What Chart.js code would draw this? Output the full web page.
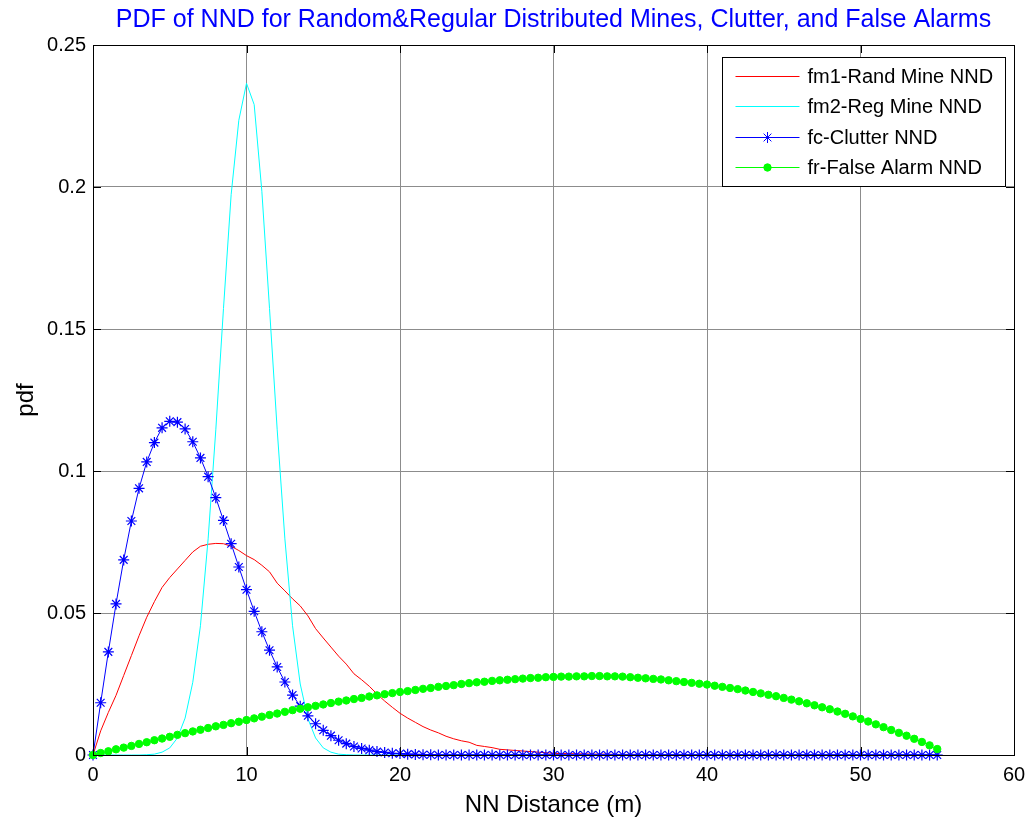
<!DOCTYPE html>
<html>
<head>
<meta charset="utf-8">
<script src="https://cdn.jsdelivr.net/npm/chart.js@4.4.0/dist/chart.umd.min.js"></script>
<style>
  html, body { margin: 0; padding: 0; background: #fff; }
  #wrap { width: 1030px; height: 821px; }
</style>
</head>
<body>
<div id="wrap"><canvas id="nndChart" width="1030" height="821"></canvas></div>
<script>
// NN distance grid (m), 0 to 55 in 0.5 m steps
const distances = [
  0, 0.5, 1, 1.5, 2, 2.5, 3, 3.5, 4, 4.5,
  5, 5.5, 6, 6.5, 7, 7.5, 8, 8.5, 9, 9.5,
  10, 10.5, 11, 11.5, 12, 12.5, 13, 13.5, 14, 14.5,
  15, 15.5, 16, 16.5, 17, 17.5, 18, 18.5, 19, 19.5,
  20, 20.5, 21, 21.5, 22, 22.5, 23, 23.5, 24, 24.5,
  25, 25.5, 26, 26.5, 27, 27.5, 28, 28.5, 29, 29.5,
  30, 30.5, 31, 31.5, 32, 32.5, 33, 33.5, 34, 34.5,
  35, 35.5, 36, 36.5, 37, 37.5, 38, 38.5, 39, 39.5,
  40, 40.5, 41, 41.5, 42, 42.5, 43, 43.5, 44, 44.5,
  45, 45.5, 46, 46.5, 47, 47.5, 48, 48.5, 49, 49.5,
  50, 50.5, 51, 51.5, 52, 52.5, 53, 53.5, 54, 54.5,
  55
];

// fm1 - random mine NND
const fmRand = [
  0, 0.0085, 0.0150, 0.0210, 0.0280, 0.0350, 0.0420, 0.0485, 0.0540, 0.0590,
  0.0625, 0.0655, 0.0685, 0.0715, 0.0735, 0.0742, 0.0745, 0.0744, 0.0735, 0.0720,
  0.0702, 0.0688, 0.0668, 0.0645, 0.0605, 0.0578, 0.0550, 0.0525, 0.0490, 0.0445,
  0.0412, 0.0380, 0.0348, 0.0320, 0.0286, 0.0265, 0.0242, 0.0215, 0.0190, 0.0168,
  0.0147, 0.0130, 0.0115, 0.0100, 0.0088, 0.0078, 0.0066, 0.0057, 0.0050, 0.0045,
  0.0034, 0.0030, 0.0026, 0.0020, 0.0018, 0.0016, 0.0014, 0.0012, 0.0010, 0.0008,
  0.0006, 0.0005, 0.0005, 0.0004, 0.0004, 0.0003, 0.0003, 0.0003, 0.0002, 0.0002,
  0.0002, 0.0002, 0.0001, 0.0001, 0.0001, 0.0001, 0.0001, 0.0001, 0.0001, 0,
  0, 0, 0, 0, 0, 0, 0, 0, 0, 0,
  0, 0, 0, 0, 0, 0, 0, 0, 0, 0,
  0, 0, 0, 0, 0, 0, 0, 0, 0, 0,
  0
];

// fm2 - regular mine NND
const fmReg = [
  0, 0, 0, 0, 0, 0, 0, 0.0001, 0.0003, 0.0010,
  0.0025, 0.0060, 0.0130, 0.0256, 0.0455, 0.0761, 0.1145, 0.1572, 0.1973, 0.2235,
  0.2365, 0.2290, 0.1985, 0.1572, 0.1145, 0.0761, 0.0455, 0.0250, 0.0128, 0.0060,
  0.0025, 0.0010, 0.0003, 0.0001, 0, 0, 0, 0, 0, 0,
  0, 0, 0, 0, 0, 0, 0, 0, 0, 0,
  0, 0, 0, 0, 0, 0, 0, 0, 0, 0,
  0, 0, 0, 0, 0, 0, 0, 0, 0, 0,
  0, 0, 0, 0, 0, 0, 0, 0, 0, 0,
  0, 0, 0, 0, 0, 0, 0, 0, 0, 0,
  0, 0, 0, 0, 0, 0, 0, 0, 0, 0,
  0, 0, 0, 0, 0, 0, 0, 0, 0, 0,
  0
];

// fc - clutter NND
const fcClutter = [
  0, 0.0184, 0.0363, 0.0532, 0.0687, 0.0824, 0.0939, 0.1032, 0.1100, 0.1152,
  0.1175, 0.1172, 0.1148, 0.1103, 0.1046, 0.0980, 0.0906, 0.0826, 0.0744, 0.0662,
  0.0582, 0.0506, 0.0434, 0.0369, 0.0310, 0.0257, 0.0211, 0.0172, 0.0138, 0.0110,
  0.0087, 0.0068, 0.0052, 0.0040, 0.0030, 0.0023, 0.0017, 0.0012, 0.0009, 0.0006,
  0.0005, 0.0003, 0.0002, 0.0001, 0.0001, 0, 0, 0, 0, 0,
  0, 0, 0, 0, 0, 0, 0, 0, 0, 0,
  0, 0, 0, 0, 0, 0, 0, 0, 0, 0,
  0, 0, 0, 0, 0, 0, 0, 0, 0, 0,
  0, 0, 0, 0, 0, 0, 0, 0, 0, 0,
  0, 0, 0, 0, 0, 0, 0, 0, 0, 0,
  0, 0, 0, 0, 0, 0, 0, 0, 0, 0,
  0
];

// fr - false alarm NND
const frFalse = [
  0.0000, 0.0007, 0.0013, 0.0020, 0.0026, 0.0032, 0.0039, 0.0045, 0.0052, 0.0058,
  0.0064, 0.0071, 0.0077, 0.0083, 0.0089, 0.0095, 0.0101, 0.0106, 0.0112, 0.0117,
  0.0123, 0.0129, 0.0135, 0.0141, 0.0146, 0.0152, 0.0158, 0.0163, 0.0168, 0.0173,
  0.0178, 0.0183, 0.0188, 0.0192, 0.0197, 0.0201, 0.0206, 0.0210, 0.0214, 0.0218,
  0.0222, 0.0225, 0.0229, 0.0233, 0.0236, 0.0240, 0.0243, 0.0246, 0.0250, 0.0253,
  0.0256, 0.0258, 0.0261, 0.0263, 0.0265, 0.0267, 0.0269, 0.0271, 0.0272, 0.0274,
  0.0275, 0.0276, 0.0276, 0.0277, 0.0277, 0.0278, 0.0278, 0.0277, 0.0277, 0.0276,
  0.0274, 0.0272, 0.0270, 0.0268, 0.0266, 0.0263, 0.0260, 0.0257, 0.0254, 0.0251,
  0.0248, 0.0244, 0.0240, 0.0236, 0.0232, 0.0227, 0.0222, 0.0217, 0.0212, 0.0207,
  0.0201, 0.0195, 0.0189, 0.0182, 0.0175, 0.0168, 0.0161, 0.0153, 0.0145, 0.0136,
  0.0127, 0.0118, 0.0108, 0.0098, 0.0088, 0.0078, 0.0068, 0.0057, 0.0046, 0.0034,
  0.0021
];

const seriesLabels = ['fm1-Rand Mine NND', 'fm2-Reg Mine NND', 'fc-Clutter NND', 'fr-False Alarm NND'];
const xTicks = [0, 10, 20, 30, 40, 50, 60];
const yTicks = [0, 0.05, 0.1, 0.15, 0.2, 0.25];
const chartTitle = 'PDF of NND for Random&Regular Distributed Mines, Clutter, and False Alarms';

const FONT = "'Liberation Sans', Arial, sans-serif";

function toPoints(ys) {
  return distances.map((d, i) => ({ x: d, y: ys[i] }));
}

// title centred over the axes, box around the axes, inward ticks, boxed legend
const axesDecor = {
  id: 'axesDecor',
  afterDatasetsDraw(chart) {
    const { ctx, chartArea: a, scales } = chart;
    ctx.save();

    ctx.fillStyle = '#0000ff';
    ctx.font = '25px ' + FONT;
    ctx.textAlign = 'center';
    ctx.textBaseline = 'middle';
    ctx.fillText(chartTitle, (a.left + a.right) / 2, 20);

    ctx.strokeStyle = '#000';
    ctx.lineWidth = 1;
    const tl = 8;
    ctx.beginPath();
    xTicks.forEach(v => {
      const px = Math.round(scales.x.getPixelForValue(v)) + 0.5;
      ctx.moveTo(px, a.bottom); ctx.lineTo(px, a.bottom - tl);
      ctx.moveTo(px, a.top); ctx.lineTo(px, a.top + tl);
    });
    yTicks.forEach(v => {
      const py = Math.round(scales.y.getPixelForValue(v)) + 0.5;
      ctx.moveTo(a.left, py); ctx.lineTo(a.left + tl, py);
      ctx.moveTo(a.right, py); ctx.lineTo(a.right - tl, py);
    });
    ctx.stroke();
    ctx.strokeRect(Math.round(a.left) + 0.5, Math.round(a.top) + 0.5,
      Math.round(a.right - a.left), Math.round(a.bottom - a.top));

    // legend
    const bw = 283, bh = 129;
    const bx = Math.round(a.right - 9 - bw) + 0.5;
    const by = Math.round(a.top + 12) + 0.5;
    ctx.fillStyle = '#fff';
    ctx.fillRect(bx, by, bw, bh);
    ctx.strokeRect(bx, by, bw, bh);
    ctx.font = '20px ' + FONT;
    ctx.textBaseline = 'middle';
    ctx.textAlign = 'left';
    chart.data.datasets.forEach((ds, i) => {
      const y = Math.round(by + 18 + i * 30.5) + 0.5;
      ctx.strokeStyle = ds.borderColor;
      ctx.lineWidth = 1;
      ctx.beginPath();
      ctx.moveTo(bx + 13, y);
      ctx.lineTo(bx + 77, y);
      ctx.stroke();
      if (ds.pointRadius > 0) {
        ctx.fillStyle = ds.pointBackgroundColor;
        ctx.strokeStyle = ds.pointBorderColor;
        Chart.helpers.drawPoint(ctx, {
          pointStyle: ds.pointStyle, radius: ds.pointRadius,
          borderWidth: ds.pointBorderWidth, rotation: 0
        }, bx + 45, y);
      }
      ctx.fillStyle = '#000';
      ctx.fillText(ds.label, bx + 85, y + 1);
    });
    ctx.restore();
  }
};

new Chart(document.getElementById('nndChart'), {
  type: 'line',
  data: {
    datasets: [
      {
        label: seriesLabels[0], data: toPoints(fmRand),
        borderColor: '#ff0000', borderWidth: 1, pointRadius: 0, order: 4, clip: false
      },
      {
        label: seriesLabels[1], data: toPoints(fmReg),
        borderColor: '#00ffff', borderWidth: 1, pointRadius: 0, order: 3, clip: false
      },
      {
        label: seriesLabels[2], data: toPoints(fcClutter),
        borderColor: '#0000ff', borderWidth: 1, pointStyle: 'star',
        pointRadius: 5.5, pointBorderWidth: 1.2,
        pointBorderColor: '#0000ff', pointBackgroundColor: '#0000ff', order: 2, clip: false
      },
      {
        label: seriesLabels[3], data: toPoints(frFalse),
        borderColor: '#00ff00', borderWidth: 1, pointStyle: 'circle',
        pointRadius: 3.7, pointBorderWidth: 1,
        pointBorderColor: '#00ff00', pointBackgroundColor: '#00ff00', order: 1, clip: false
      }
    ]
  },
  options: {
    responsive: false,
    animation: false,
    devicePixelRatio: 1,
    layout: { padding: { left: 0, right: 16, top: 45, bottom: 0 } },
    elements: { line: { tension: 0 } },
    scales: {
      x: {
        type: 'linear', min: 0, max: 60,
        afterBuildTicks(scale) { scale.ticks = xTicks.map(v => ({ value: v })); },
        afterFit(scale) {
          scale.height = 66;
          scale.paddingLeft = 0;
          scale.paddingRight = 0;
        },
        grid: { color: '#8c8c8c', lineWidth: 1, drawTicks: false },
        border: { display: false },
        ticks: { color: '#000', padding: 8, font: { family: FONT, size: 20 }, maxRotation: 0 },
        title: {
          display: true, text: 'NN Distance (m)', color: '#000',
          font: { family: FONT, size: 24 }, padding: { top: 0, bottom: 1 }
        }
      },
      y: {
        type: 'linear', min: 0, max: 0.25,
        afterBuildTicks(scale) { scale.ticks = yTicks.map(v => ({ value: v })); },
        afterFit(scale) {
          scale.width = 93;
          scale.paddingTop = 0;
          scale.paddingBottom = 0;
        },
        grid: { color: '#8c8c8c', lineWidth: 1, drawTicks: false },
        border: { display: false },
        ticks: { color: '#000', padding: 7, font: { family: FONT, size: 20 }, callback: v => String(v) },
        title: {
          display: true, text: 'pdf', color: '#000',
          font: { family: FONT, size: 24 }, padding: { top: 12, bottom: 0 }
        }
      }
    },
    plugins: {
      legend: { display: false },
      tooltip: { enabled: false },
      title: { display: false }
    }
  },
  plugins: [axesDecor]
});
</script>
</body>
</html>
